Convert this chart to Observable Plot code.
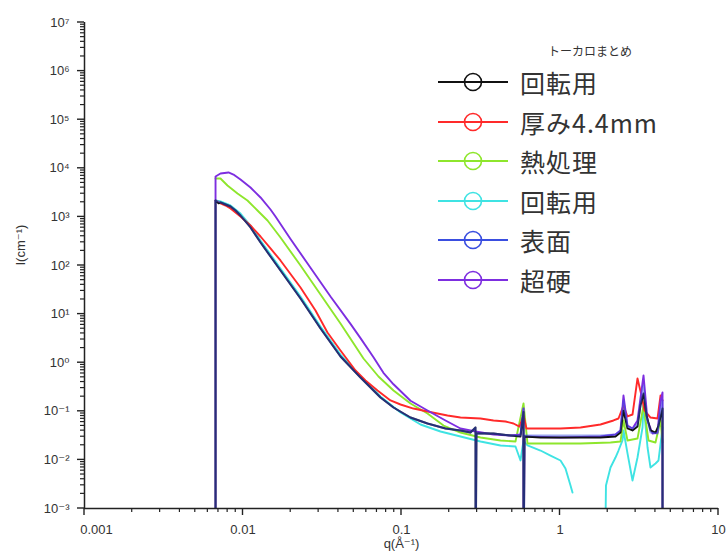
<!DOCTYPE html>
<html><head><meta charset="utf-8">
<script src="https://cdn.jsdelivr.net/npm/d3@7"></script>
<script src="https://cdn.jsdelivr.net/npm/@observablehq/plot@0.6"></script>
<style>
html,body{margin:0;padding:0;background:#fff;}
#wrap{position:relative;width:726px;height:552px;overflow:hidden;}
#legend{position:absolute;left:0;top:0;width:726px;height:552px;pointer-events:none;font-family:"Noto Sans CJK JP","Noto Sans",sans-serif;color:#333;}
.ltitle{position:absolute;font-size:12px;}
.lrow{position:absolute;height:28px;display:flex;align-items:center;}
.lrow span{font-size:25px;letter-spacing:1px;margin-left:12px;line-height:28px;}
</style></head>
<body><div id="wrap"></div>
<script>
const legendTitle = "トーカロまとめ";
const seriesNames = ["回転用", "厚み4.4mm", "熱処理", "回転用", "表面", "超硬"];
const seriesColors = ["#111111", "#ff2a2a", "#8ee62c", "#3fe3e3", "#3a4ee0", "#7d2ee0"];

const xMajor = [0.001, 0.01, 0.1, 1, 10];
const xTickLabels = ["0.001", "0.01", "0.1", "1", "10"];
const yMajor = [1e-3, 1e-2, 1e-1, 1e0, 1e1, 1e2, 1e3, 1e4, 1e5, 1e6, 1e7];
const yTickLabels = ["10⁻³", "10⁻²", "10⁻¹", "10⁰", "10¹", "10²", "10³", "10⁴", "10⁵", "10⁶", "10⁷"];
const xLabel = "q(Å⁻¹)";
const yLabel = "I(cm⁻¹)";
const ZERO = 1e-5; // value read as "zero / negative" (drops below the axis)

// series data: [q (Å^-1), I (cm^-1)]
const s回転用 = [
  [0.00671, ZERO], [0.00671, 2175], [0.00701, 1900], [0.00721, 1980], [0.00776, 1800], [0.00834, 1637], [0.00897, 1355],
  [0.00964, 1069], [0.01115, 605], [0.0129, 297], [0.01491, 153], [0.01724, 78.9], [0.02306, 20.9],
  [0.03083, 5.06], [0.04122, 1.34], [0.05511, 0.495], [0.0737, 0.192], [0.08902, 0.12], [0.114, 0.0745],
  [0.1459, 0.0561], [0.1895, 0.0443], [0.2356, 0.0403], [0.2725, 0.0366], [0.293, 0.0464], [0.293, ZERO],
  [0.2973, 0.0349], [0.3805, 0.0349], [0.4873, 0.0318], [0.5634, 0.0303], [0.5885, 0.0975], [0.5885, ZERO],
  [0.597, 0.0303], [0.7534, 0.0289], [1.0074, 0.0289], [1.347, 0.0289], [1.801, 0.0289], [2.239, 0.0303],
  [2.408, 0.0366], [2.515, 0.104], [2.666, 0.0443], [2.867, 0.0403], [3.083, 0.0486], [3.22, 0.131],
  [3.365, 0.232], [3.515, 0.082], [3.724, 0.0403], [4.004, 0.0366], [4.183, 0.051], [4.434, 0.114], [4.434, ZERO]
];
const s厚み = [
  [0.00671, 2175], [0.00721, 1888], [0.00776, 1716], [0.00834, 1489], [0.00964, 1019], [0.01115, 665],
  [0.0129, 395], [0.01491, 224], [0.01724, 127], [0.02306, 35.2], [0.02867, 11.9], [0.03412, 4.18],
  [0.04122, 1.78], [0.05127, 0.692], [0.05927, 0.431], [0.07056, 0.268], [0.08522, 0.167], [0.0986, 0.138],
  [0.119, 0.114], [0.1459, 0.0991], [0.1951, 0.082], [0.2356, 0.0745], [0.315, 0.0711], [0.3805, 0.0647],
  [0.4531, 0.0617], [0.5089, 0.0561], [0.5553, 0.0486], [0.5885, 0.082], [0.6146, 0.0443], [0.7534, 0.0443],
  [1.0074, 0.0443], [1.347, 0.0464], [1.801, 0.0535], [2.175, 0.0647], [2.339, 0.0711], [2.515, 0.131],
  [2.666, 0.0782], [2.867, 0.0859], [3.083, 0.473], [3.268, 0.211], [3.414, 0.104], [3.724, 0.0745],
  [4.122, 0.0711], [4.306, 0.211], [4.434, 0.167]
];
const s熱処理 = [
  [0.00671, 6170], [0.00721, 6170], [0.00798, 4430], [0.00923, 3030], [0.01067, 2175], [0.01234, 1355],
  [0.01428, 843], [0.01724, 377], [0.02306, 100], [0.03083, 25.3], [0.04122, 6.41], [0.05757, 1.22],
  [0.07159, 0.52], [0.08902, 0.268], [0.114, 0.145], [0.1459, 0.0902], [0.1841, 0.051], [0.2356, 0.0366],
  [0.315, 0.0289], [0.4213, 0.0251], [0.5238, 0.0239], [0.5885, 0.145], [0.6237, 0.0217], [0.8711, 0.0217],
  [1.347, 0.0217], [2.083, 0.0228], [2.408, 0.0239], [2.515, 0.0647], [2.666, 0.0251], [3.083, 0.0275],
  [3.365, 0.131], [3.617, 0.0251], [4.004, 0.0228], [4.306, 0.0647], [4.434, 0.0228]
];
const s回転用2 = [
  [0.00671, 2175], [0.00721, 2075], [0.00834, 1716], [0.00964, 1175], [0.01115, 665], [0.0129, 327],
  [0.01491, 168], [0.01724, 86.7], [0.02306, 23.0], [0.03083, 5.56], [0.04122, 1.47], [0.05511, 0.52],
  [0.0737, 0.202], [0.0986, 0.0944], [0.1318, 0.0535], [0.1762, 0.0384], [0.2356, 0.0303], [0.315, 0.0239],
  [0.4213, 0.0198], [0.5238, 0.0189], [0.5634, 0.00973], [0.5885, 0.0251], [0.6237, 0.0198], [0.7534, 0.0156],
  [0.8711, 0.0123], [1.0074, 0.00973], [1.083, 0.00665], [1.165, 0.00297], [1.199, 0.00213], [1.5, null],
  [1.909, ZERO], [1.95, 0.00297], [2.083, 0.00698], [2.239, 0.0112], [2.339, 0.0156], [2.479, 0.0251],
  [2.515, 0.0403], [2.666, 0.0136], [2.867, 0.00377], [3.083, 0.0112], [3.316, 0.0464], [3.365, 0.145],
  [3.567, 0.018], [3.724, 0.00698], [4.004, 0.00844], [4.183, 0.00973], [4.434, 0.0464]
];
const s表面 = [
  [0.00671, ZERO], [0.00671, 2175], [0.00721, 1980], [0.00776, 1800], [0.00834, 1637], [0.00897, 1355],
  [0.00964, 1069], [0.01115, 605], [0.0129, 297], [0.01491, 153], [0.01724, 78.9], [0.02306, 20.9],
  [0.03083, 5.06], [0.04122, 1.34], [0.05511, 0.495], [0.0737, 0.192], [0.08902, 0.12], [0.114, 0.0745],
  [0.1459, 0.0561], [0.1895, 0.0443], [0.2356, 0.0403], [0.2725, 0.0366], [0.293, 0.0464], [0.293, ZERO],
  [0.2973, 0.0349], [0.3805, 0.0349], [0.4873, 0.0318], [0.5634, 0.0318], [0.5885, 0.114], [0.5885, ZERO],
  [0.597, 0.0318], [1.0074, 0.0318], [1.801, 0.0318], [2.239, 0.0333], [2.408, 0.0403], [2.515, 0.167],
  [2.666, 0.0486], [2.867, 0.0443], [3.083, 0.0535], [3.365, 0.34], [3.515, 0.0782], [3.724, 0.0366],
  [4.122, 0.0349], [4.306, 0.104], [4.434, 0.167], [4.434, ZERO]
];
const s超硬 = [
  [0.00671, ZERO], [0.00671, 6780], [0.00721, 7820], [0.0081, 8200], [0.00871, 7450], [0.00964, 5890],
  [0.01115, 4030], [0.0129, 2510], [0.01491, 1419], [0.01603, 1019], [0.01994, 350], [0.02666, 90],
  [0.03565, 23], [0.04766, 6.3], [0.05511, 3.2], [0.06656, 1.3], [0.0769, 0.62], [0.08902, 0.36],
  [0.114, 0.165], [0.1459, 0.104], [0.1895, 0.0647], [0.2356, 0.0443], [0.293, 0.0384], [0.3805, 0.0333],
  [0.4873, 0.0318], [0.5634, 0.0333], [0.5885, 0.114], [0.5885, ZERO], [0.597, 0.0303], [1.0074, 0.0289],
  [1.801, 0.0303], [2.239, 0.0333], [2.408, 0.0403], [2.515, 0.211], [2.666, 0.051], [2.867, 0.0443],
  [3.083, 0.0647], [3.365, 0.546], [3.567, 0.0647], [3.834, 0.0349], [4.122, 0.0366], [4.306, 0.167],
  [4.434, 0.244], [4.434, ZERO]
];

const seriesData = [s回転用, s厚み, s熱処理, s回転用2, s表面, s超硬];
const drawOrder = [3, 2, 1, 5, 0, 4];
const seriesOpacity = [1, 1, 1, 1, 0.5, 1];

const xMinor = [];
for (const d of [0.001, 0.01, 0.1, 1]) for (let k = 2; k <= 9; k++) xMinor.push(+(k * d).toPrecision(3));
const yMinor = [];
for (let e = -3; e < 7; e++) for (let k = 2; k <= 9; k++) yMinor.push(+(k * Math.pow(10, e)).toPrecision(3));

const W = 726, H = 552, mL = 84, mR = 8, mT = 22, mB = 44;

const lineMarks = drawOrder.map(i => Plot.line(seriesData[i], {
  x: d => d[0], y: d => d[1], stroke: seriesColors[i], strokeWidth: 1.9,
  strokeOpacity: seriesOpacity[i], clip: true
}));

const labelStyle = {label: null, tickSize: 0, fill: "#333", fontSize: 13};
const chart = Plot.plot({
  width: W, height: H,
  marginLeft: mL, marginRight: mR, marginTop: mT, marginBottom: mB,
  style: {fontFamily: "'Liberation Sans', 'DejaVu Sans', sans-serif", fontSize: "12px", color: "#000", background: "#fff", overflow: "visible"},
  x: {type: "log", domain: [0.001, 10]},
  y: {type: "log", domain: [1e-3, 1e7]},
  marks: [
    ...lineMarks,
    Plot.axisX(xMajor.slice(0, 1), {...labelStyle, tickPadding: 16, dx: 12, tickFormat: d => xTickLabels[xMajor.indexOf(d)]}),
    Plot.axisX(xMajor.slice(1), {...labelStyle, tickPadding: 16, tickFormat: d => xTickLabels[xMajor.indexOf(d)]}),
    Plot.axisY(yMajor, {...labelStyle, tickPadding: 15, tickFormat: d => yTickLabels[yMajor.indexOf(d)]}),
    Plot.ruleX([0.001], {stroke: "#222", strokeWidth: 1.5}),
    Plot.ruleY([0.001], {stroke: "#222", strokeWidth: 1.5}),
    Plot.text([xLabel], {frameAnchor: "bottom", dy: 39, fontSize: 13, fill: "#333"}),
    Plot.text([yLabel], {frameAnchor: "left", dx: -64, rotate: -90, fontSize: 13, fill: "#333"})
  ]
});
const wrap = document.getElementById("wrap");
wrap.appendChild(chart);

// outward tick marks, positioned with the chart's own x and y scales
const sx = chart.scale("x"), sy = chart.scale("y");
const x0 = sx.apply(0.001), y0 = sy.apply(0.001);
const g = d3.select(chart).append("g").attr("stroke", "#222").attr("fill", "none");
const tickDefs = [
  ...xMinor.map(v => ({px: sx.apply(v), len: 4, dir: "x"})),
  ...xMajor.map(v => ({px: sx.apply(v), len: 7, dir: "x"})),
  ...yMinor.map(v => ({px: sy.apply(v), len: 4, dir: "y"})),
  ...yMajor.map(v => ({px: sy.apply(v), len: 7, dir: "y"}))
];
g.selectAll("line").data(tickDefs).join("line")
  .attr("stroke-width", d => d.len > 5 ? 1.4 : 1.2)
  .attr("x1", d => d.dir === "x" ? d.px : x0)
  .attr("x2", d => d.dir === "x" ? d.px : x0 - d.len)
  .attr("y1", d => d.dir === "x" ? y0 : d.px)
  .attr("y2", d => d.dir === "x" ? y0 + d.len : d.px);

// legend overlay
const leg = document.createElement("div");
leg.id = "legend";
const t = document.createElement("div");
t.className = "ltitle";
t.style.left = "548px"; t.style.top = "42px";
t.textContent = legendTitle;
leg.appendChild(t);
seriesNames.forEach((name, i) => {
  const row = document.createElement("div");
  row.className = "lrow";
  row.style.left = "438px";
  row.style.top = (68 + i * 39.6) + "px";
  row.innerHTML = `<svg width="70" height="28"><line x1="0" y1="14" x2="70" y2="14" stroke="${seriesColors[i]}" stroke-width="2"/><circle cx="35" cy="14" r="8.5" fill="none" stroke="${seriesColors[i]}" stroke-width="1.6"/></svg><span>${name}</span>`;
  leg.appendChild(row);
});
wrap.appendChild(leg);
</script>
</body></html>
